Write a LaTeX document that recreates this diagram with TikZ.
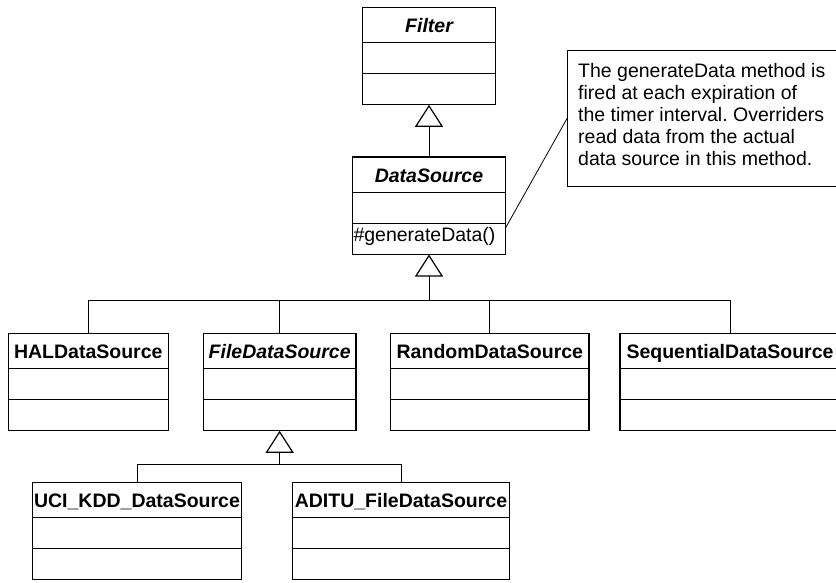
\documentclass[tikz,border=0pt]{standalone}
\usepackage{fontspec}
\setmainfont{Liberation Sans}
\usetikzlibrary{arrows.meta}
\frenchspacing

% one UML class: name, left x, right x, top y, title font switch, title
\newcommand{\umlclass}[6]{%
  \node[classbox, minimum width={#3-#2}, anchor=north west] (#1) at (#2,#4) {};
  \draw[classline] ([yshift=-35.5pt]#1.north west) -- ([yshift=-35.5pt]#1.north east);
  \draw[classline] ([yshift=-66.5pt]#1.north west) -- ([yshift=-66.5pt]#1.north east);
  \node[titletext, anchor=base] (#1-title) at ([yshift=-25pt]#1.north) {#5#6};
}

\begin{document}
\begin{tikzpicture}[x=1pt, y=-1pt,
  classbox/.style={draw, line width=1.2pt, fill=white, minimum height=97.5pt,
    inner sep=0pt, outer sep=0pt},
  classline/.style={line width=1.2pt},
  titletext/.style={font=\fontsize{19.5}{22}\selectfont\bfseries, inner sep=0pt},
  plaintext/.style={font=\fontsize{19.5}{22}\selectfont, inner sep=0pt},
  conn/.style={draw, line width=0.9pt},
  gen/.style={conn, -{Triangle[open, length=22pt, width=28pt, line width=1.2pt]}},
  notebox/.style={draw, line width=0.9pt, fill=white, inner sep=0pt, outer sep=0pt}
]
\useasboundingbox (0,0) rectangle (836,582);
\fill[white] (0,0) rectangle (836,582);

% classes
\umlclass{filter}{362.5}{495.5}{7.3}{\itshape}{Filter}
\umlclass{ds}{352.7}{505.3}{157}{\itshape}{DataSource}
\node[plaintext, anchor=base west] (ds-method) at ([xshift=0.6pt, yshift=-84.3pt]ds.north west) {\#generateData()};

\umlclass{hal}{8.3}{168.3}{333.3}{}{HALDataSource}
\umlclass{file}{203.3}{356}{333.3}{\itshape}{FileDataSource}
\umlclass{random}{390.7}{589}{333.3}{}{RandomDataSource}
\umlclass{seq}{620}{840}{333.3}{}{SequentialDataSource}

\umlclass{uci}{32.3}{241.7}{482.3}{}{UCI\_KDD\_DataSource}
\umlclass{aditu}{292.7}{509.3}{482.3}{}{ADITU\_FileDataSource}

% note
\node[notebox, anchor=north west, minimum width=272.7pt, minimum height=136pt]
  (note) at (567.3,50) {};
\node[plaintext, anchor=north west, align=left] (note-text) at (578,63.5)
  {The generateData method is\\fired at each expiration of\\the timer interval. Overriders\\read data from the actual\\data source in this method.};
\coordinate (ds-hook) at ([yshift=-71.3pt]ds.north east);
\draw[line width=0.8pt] (ds-hook) -- (note.west);

% generalisation: DataSource -> Filter
\draw[gen] (ds.north) -- (filter.south);

% generalisation: concrete sources -> DataSource
\coordinate (dsbus) at (ds.south |- 0,300);
\draw[conn] (hal.north) |- (dsbus);
\draw[conn] (file.north) |- (dsbus);
\draw[conn] (random.north) |- (dsbus);
\draw[conn] (seq.north) |- (dsbus);
\draw[gen] (dsbus) -- (ds.south);

% generalisation: file sources -> FileDataSource
\coordinate (filebus) at (file.south |- 0,464);
\draw[conn] (uci.north) |- (filebus);
\draw[conn] (aditu.north) |- (filebus);
\draw[gen] (filebus) -- (file.south);
\end{tikzpicture}
\end{document}
